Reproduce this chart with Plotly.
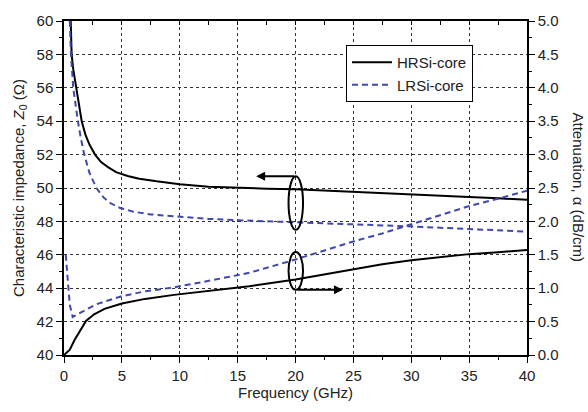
import plotly.graph_objects as go

# Characteristic impedance Z0 (ohm) versus frequency (GHz)
freq_z_hr = [0.58, 0.66, 0.8, 1.04, 1.25, 1.53, 1.85, 2.2, 2.68, 3.2, 3.8, 4.5, 5.5, 6.5, 8,
             10, 12.5, 15, 17.5, 20, 22.5, 25, 27.5, 30, 32.5, 35, 37.5, 40]
z_hr = [60.0, 58.0, 57.1, 56.0, 55.0, 54.0, 53.2, 52.6, 52.0, 51.55, 51.25, 50.95, 50.72, 50.56, 50.4,
        50.22, 50.08, 50.0, 49.96, 49.92, 49.85, 49.78, 49.70, 49.62, 49.54, 49.46, 49.38, 49.30]

freq_z_lr = [0.5, 0.6, 0.8, 1.0, 1.2, 1.45, 1.75, 2.2, 2.8, 3.4, 4.0, 4.8, 6, 7.5,
             10, 12.5, 15, 17.5, 20, 22.5, 25, 27.5, 30, 32.5, 35, 37.5, 40]
z_lr = [60.0, 58.0, 56.0, 54.9, 54.0, 53.0, 52.0, 50.9, 50.0, 49.45, 49.1, 48.82, 48.58, 48.42,
        48.27, 48.15, 48.07, 48.01, 47.97, 47.91, 47.84, 47.77, 47.70, 47.62, 47.55, 47.47, 47.39]

# Attenuation alpha (dB/cm) versus frequency (GHz)
freq_a_hr = [0, 0.5, 0.9, 1.38, 1.9, 2.6, 3.5, 5, 7, 9.5, 12.5, 16,
             20, 22.5, 25, 27.5, 30, 32.5, 35, 37.5, 40]
a_hr = [0.0, 0.08, 0.22, 0.37, 0.51, 0.61, 0.69, 0.77, 0.84, 0.9, 0.96, 1.03,
        1.13, 1.21, 1.29, 1.36, 1.42, 1.47, 1.51, 1.54, 1.57]

freq_a_lr = [0.15, 0.3, 0.5, 0.75, 1.4, 2.0, 2.8, 3.5, 4.5, 5, 6.9, 9.4, 12.5, 16,
             20, 25, 27.5, 30, 32.5, 35, 37.5, 40]
a_lr = [1.5, 1.15, 0.75, 0.57, 0.63, 0.69, 0.76, 0.8, 0.85, 0.88, 0.95, 1.01, 1.11, 1.23,
        1.43, 1.70, 1.82, 1.96, 2.10, 2.23, 2.34, 2.46]

series_names = ["HRSi-core", "LRSi-core"]

FONT = "Liberation Sans, Arial, Helvetica, sans-serif"
TXT = "#222"
BLUE = "#3f48ad"
FS = 15

fig = go.Figure()

fig.add_trace(go.Scatter(x=freq_z_hr, y=z_hr, mode="lines", name=series_names[0],
                         line=dict(color="black", width=2), xaxis="x", yaxis="y"))
fig.add_trace(go.Scatter(x=freq_z_lr, y=z_lr, mode="lines", name=series_names[1],
                         line=dict(color=BLUE, width=2, dash="6px,4px"), xaxis="x", yaxis="y"))
fig.add_trace(go.Scatter(x=freq_a_hr, y=a_hr, mode="lines", showlegend=False,
                         line=dict(color="black", width=2), xaxis="x2", yaxis="y2"))
fig.add_trace(go.Scatter(x=freq_a_lr, y=a_lr, mode="lines", showlegend=False,
                         line=dict(color=BLUE, width=2, dash="6px,4px"), xaxis="x2", yaxis="y2"))

# Ellipses grouping the curve pairs, with arrows pointing to the relevant axis
ell_x = (19.4, 20.65)
ell_upper = (47.5, 50.7)
ell_lower = (43.9, 46.17)
for y0, y1 in (ell_upper, ell_lower):
    fig.add_shape(type="circle", xref="x", yref="y", x0=ell_x[0], x1=ell_x[1], y0=y0, y1=y1,
                  line=dict(color="black", width=2))

fig.add_annotation(x=16.6, y=ell_upper[1], ax=20.0, ay=ell_upper[1], xref="x", yref="y",
                   axref="x", ayref="y", text="", showarrow=True, arrowhead=2, arrowsize=0.9,
                   arrowwidth=2, arrowcolor="black")
fig.add_annotation(x=24.1, y=ell_lower[0], ax=20.05, ay=ell_lower[0], xref="x", yref="y",
                   axref="x", ayref="y", text="", showarrow=True, arrowhead=2, arrowsize=0.9,
                   arrowwidth=2, arrowcolor="black")

# Right-hand axis title, reading top to bottom
fig.add_annotation(x=1.136, y=0.5, xref="paper", yref="paper", text="Attenuation, α (dB/cm)",
                   textangle=90, showarrow=False, font=dict(family=FONT, size=FS, color=TXT))

grid = dict(showgrid=True, gridcolor="#333", gridwidth=1, griddash="dot")
axis_common = dict(showline=True, linecolor="black", linewidth=1.5, zeroline=False,
                   tickcolor="black", tickwidth=1.3, ticks="outside", ticklen=6,
                   tickfont=dict(family=FONT, size=FS, color=TXT))

fig.update_layout(
    width=588, height=412,
    margin=dict(l=64, r=61, t=12, b=57),
    paper_bgcolor="white", plot_bgcolor="white",
    font=dict(family=FONT, size=FS, color=TXT),
    xaxis=dict(range=[0, 40], dtick=5, tick0=0, **axis_common, **grid,
               minor=dict(dtick=2.5, ticks="outside", ticklen=3, tickcolor="black", showgrid=False),
               title=dict(text="Frequency (GHz)", font=dict(family=FONT, size=FS, color=TXT),
                          standoff=4)),
    yaxis=dict(range=[40, 60], dtick=2, tick0=40, **axis_common, **grid,
               minor=dict(dtick=1, ticks="outside", ticklen=3, tickcolor="black", showgrid=False),
               title=dict(text="Characteristic impedance, <i>Z</i><sub>0</sub> (Ω)",
                          font=dict(family=FONT, size=FS, color=TXT), standoff=8)),
    xaxis2=dict(range=[0, 40], overlaying="x", side="top", showline=True, linecolor="black",
                linewidth=1.5, zeroline=False, showgrid=False, showticklabels=False,
                ticks="inside", ticklen=4, tickcolor="black", tickwidth=1.3, dtick=2.5, tick0=0),
    yaxis2=dict(range=[0, 5], overlaying="y", side="right", dtick=0.5, tick0=0, tickformat=".1f",
                showgrid=False, **axis_common,
                minor=dict(dtick=0.25, ticks="outside", ticklen=3, tickcolor="black")),
    legend=dict(x=0.609, y=0.928, xanchor="left", yanchor="top", bgcolor="white",
                bordercolor="black", borderwidth=1, itemwidth=40,
                font=dict(family=FONT, size=FS, color=TXT), tracegroupgap=0),
    showlegend=True,
)

fig.write_html("out.html")
